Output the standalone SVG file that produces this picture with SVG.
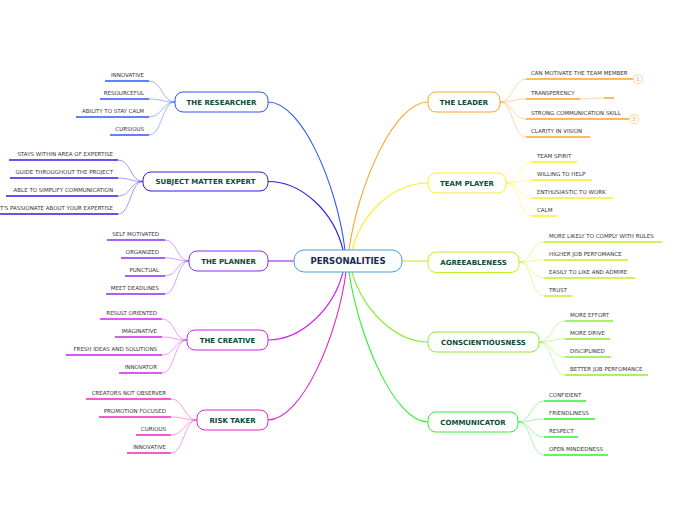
<svg xmlns="http://www.w3.org/2000/svg" width="696" height="520" viewBox="0 0 696 520">
<style>
.lt{font-family:"DejaVu Sans",Verdana,sans-serif;font-size:5.5px;fill:#333}
.le{text-anchor:end}
.u{stroke-width:1.5;fill:none}
.lc{fill:none;stroke-width:0.8;stroke-opacity:0.55}
.mc{fill:none;stroke-width:1.1}
.nr{fill:#fff;stroke-width:1}
.nt{font-family:"DejaVu Sans",Verdana,sans-serif;font-weight:bold;font-size:7px;fill:#0c4a38;text-anchor:middle}
.b1{stroke:#2b56ff}.b2{stroke:#3418e6}.b3{stroke:#8a2cf0}.b4{stroke:#cf22ee}.b5{stroke:#f020c4}
.b6{stroke:#ffa326}.b7{stroke:#ffee22}.b8{stroke:#bdf222}.b9{stroke:#88ee33}.b10{stroke:#33ee33}
.ic{fill:#fff;stroke:#ffcc88;stroke-width:0.8}
.it{font-family:"DejaVu Sans",sans-serif;font-size:5.5px;fill:#ff9a1a;text-anchor:middle}
</style>
<rect width="696" height="520" fill="#fff"/>
<g id="connectors">
<path class="mc b1" d="M268,102 C302,102 337,185 345,250"/>
<path class="mc b2" d="M268,181.5 C302,181.5 334,212 343,250"/>
<path class="mc b3" d="M268,261 L294,261"/>
<path class="mc b4" d="M268,340 C302,340 334,308 343,272"/>
<path class="mc b5" d="M268,420 C302,420 338,335 346,272"/>
<path class="mc b6" d="M428,102 C394,102 358,185 349,250"/>
<path class="mc b7" d="M428,183 C394,183 362,212 352,250"/>
<path class="mc b8" d="M402,261 L428,261"/>
<path class="mc b9" d="M428,342 C394,342 362,308 352,272"/>
<path class="mc b10" d="M428,422 C394,422 358,335 349,272"/>
<!-- researcher -->
<path class="lc b1" d="M175,102 C162,102 162,81 149,81"/>
<path class="lc b1" d="M175,102 C162,102 162,99 149,99"/>
<path class="lc b1" d="M175,102 C162,102 162,117 149,117"/>
<path class="lc b1" d="M175,102 C162,102 162,135 149,135"/>
<!-- sme -->
<path class="lc b2" d="M143,181.5 C130,181.5 131,160 118,160"/>
<path class="lc b2" d="M143,181.5 C130,181.5 131,178 118,178"/>
<path class="lc b2" d="M143,181.5 C130,181.5 131,196 118,196"/>
<path class="lc b2" d="M143,181.5 C130,181.5 131,214 118,214"/>
<!-- planner -->
<path class="lc b3" d="M189,261 C177,261 177,240 165,240"/>
<path class="lc b3" d="M189,261 C177,261 177,258 165,258"/>
<path class="lc b3" d="M189,261 C177,261 177,276 165,276"/>
<path class="lc b3" d="M189,261 C177,261 177,294 165,294"/>
<!-- creative -->
<path class="lc b4" d="M187,340 C174,340 175,319 162,319"/>
<path class="lc b4" d="M187,340 C174,340 175,337 162,337"/>
<path class="lc b4" d="M187,340 C174,340 175,355 162,355"/>
<path class="lc b4" d="M187,340 C174,340 175,373 162,373"/>
<!-- risk -->
<path class="lc b5" d="M197,420 C184,420 184,399 171,399"/>
<path class="lc b5" d="M197,420 C184,420 184,417 171,417"/>
<path class="lc b5" d="M197,420 C184,420 184,435 171,435"/>
<path class="lc b5" d="M197,420 C184,420 184,453 171,453"/>
<!-- leader -->
<path class="lc b6" d="M500,102 C513,102 513,79 526,79"/>
<path class="lc b6" d="M500,102 C513,102 513,99 526,99"/>
<path class="lc b6" d="M500,102 C513,102 513,119 526,119"/>
<path class="lc b6" d="M500,102 C513,102 513,137 526,137"/>
<path class="lc b6" d="M580,99 C592,99 592,98 604,98"/>
<!-- team -->
<path class="lc b7" d="M506,183 C519,183 519,162 532,162"/>
<path class="lc b7" d="M506,183 C519,183 519,180 532,180"/>
<path class="lc b7" d="M506,183 C519,183 519,198 532,198"/>
<path class="lc b7" d="M506,183 C519,183 519,216 532,216"/>
<!-- agree -->
<path class="lc b8" d="M519,262 C532,262 531,242 544,242"/>
<path class="lc b8" d="M519,262 C532,262 531,260 544,260"/>
<path class="lc b8" d="M519,262 C532,262 531,278 544,278"/>
<path class="lc b8" d="M519,262 C532,262 531,296 544,296"/>
<!-- consc -->
<path class="lc b9" d="M539,342 C552,342 552,321 565,321"/>
<path class="lc b9" d="M539,342 C552,342 552,339 565,339"/>
<path class="lc b9" d="M539,342 C552,342 552,357 565,357"/>
<path class="lc b9" d="M539,342 C552,342 552,375 565,375"/>
<!-- comm -->
<path class="lc b10" d="M518,422 C531,422 531,401 544,401"/>
<path class="lc b10" d="M518,422 C531,422 531,419 544,419"/>
<path class="lc b10" d="M518,422 C531,422 531,437 544,437"/>
<path class="lc b10" d="M518,422 C531,422 531,455 544,455"/>
</g>

<g id="personalities">
<rect x="294" y="250" width="108" height="22" rx="10" fill="#fbfdff" stroke="#4a9fd6" stroke-width="1"/>
<text x="348" y="264.2" font-family="DejaVu Sans,Verdana,sans-serif" font-weight="bold" font-size="8.5" fill="#1b2a50" text-anchor="middle">PERSONALITIES</text>
</g>

<g id="the-researcher"><rect class="nr b1" x="175" y="92" width="93" height="20" rx="8"/><text class="nt" x="221.5" y="104.7">THE RESEARCHER</text></g>
<g id="subject-matter-expert"><rect class="nr b2" x="143" y="172" width="125" height="19" rx="8"/><text class="nt" x="205.5" y="184.2">SUBJECT MATTER EXPERT</text></g>
<g id="the-planner"><rect class="nr b3" x="189" y="251" width="79" height="20" rx="8"/><text class="nt" x="228.5" y="263.7">THE PLANNER</text></g>
<g id="the-creative"><rect class="nr b4" x="187" y="330" width="81" height="20" rx="8"/><text class="nt" x="227.5" y="342.7">THE CREATIVE</text></g>
<g id="risk-taker"><rect class="nr b5" x="197" y="410" width="71" height="20" rx="8"/><text class="nt" x="232.5" y="422.7">RISK TAKER</text></g>
<g id="the-leader"><rect class="nr b6" x="428" y="92" width="72" height="20" rx="8"/><text class="nt" x="464" y="104.7">THE LEADER</text></g>
<g id="team-player"><rect class="nr b7" x="428" y="173" width="78" height="20" rx="8"/><text class="nt" x="467" y="185.7">TEAM PLAYER</text></g>
<g id="agreeableness"><rect class="nr b8" x="428" y="252" width="91" height="20.5" rx="8"/><text class="nt" x="473.5" y="264.9">AGREEABLENESS</text></g>
<g id="conscientiousness"><rect class="nr b9" x="428" y="332" width="111" height="20" rx="8"/><text class="nt" x="483.5" y="344.7">CONSCIENTIOUSNESS</text></g>
<g id="communicator"><rect class="nr b10" x="428" y="412" width="90" height="20" rx="8"/><text class="nt" x="473" y="424.7">COMMUNICATOR</text></g>

<!-- researcher leaves -->
<g id="res-1"><line class="u b1" x1="105" y1="81" x2="149" y2="81"/><text class="lt le" x="144" y="76.7">INNOVATIVE</text></g>
<g id="res-2"><line class="u b1" x1="100" y1="99" x2="149" y2="99"/><text class="lt le" x="144" y="94.7">RESOURCEFUL</text></g>
<g id="res-3"><line class="u b1" x1="76" y1="117" x2="149" y2="117"/><text class="lt le" x="144" y="112.7">ABILITY TO STAY CALM</text></g>
<g id="res-4"><line class="u b1" x1="110" y1="135" x2="149" y2="135"/><text class="lt le" x="144" y="130.7">CURSIOUS</text></g>
<!-- sme leaves -->
<g id="sme-1"><line class="u b2" x1="9" y1="160" x2="118" y2="160"/><text class="lt le" x="113" y="155.7">STAYS WITHIN AREA OF EXPERTISE</text></g>
<g id="sme-2"><line class="u b2" x1="10" y1="178" x2="118" y2="178"/><text class="lt le" x="113" y="173.7">GUIDE THROUGHOUT THE PROJECT</text></g>
<g id="sme-3"><line class="u b2" x1="6" y1="196" x2="118" y2="196"/><text class="lt le" x="113" y="191.7">ABLE TO SIMPLIFY COMMUNICATION</text></g>
<g id="sme-4"><line class="u b2" x1="-10" y1="214" x2="118" y2="214"/><text class="lt le" x="113" y="209.7">IT'S PASSIONATE ABOUT YOUR EXPERTISE</text></g>
<!-- planner leaves -->
<g id="pla-1"><line class="u b3" x1="107" y1="240" x2="165" y2="240"/><text class="lt le" x="159" y="235.7">SELF MOTIVATED</text></g>
<g id="pla-2"><line class="u b3" x1="121" y1="258" x2="165" y2="258"/><text class="lt le" x="159" y="253.7">ORGANIZED</text></g>
<g id="pla-3"><line class="u b3" x1="125" y1="276" x2="165" y2="276"/><text class="lt le" x="159" y="271.7">PUNCTUAL</text></g>
<g id="pla-4"><line class="u b3" x1="106" y1="294" x2="165" y2="294"/><text class="lt le" x="159" y="289.7">MEET DEADLINES</text></g>
<!-- creative leaves -->
<g id="cre-1"><line class="u b4" x1="100" y1="319" x2="162" y2="319"/><text class="lt le" x="157" y="314.7">RESULT ORIENTED</text></g>
<g id="cre-2"><line class="u b4" x1="115" y1="337" x2="162" y2="337"/><text class="lt le" x="157" y="332.7">IMAGINATIVE</text></g>
<g id="cre-3"><line class="u b4" x1="66" y1="355" x2="162" y2="355"/><text class="lt le" x="157" y="350.7">FRESH IDEAS AND SOLUTIONS</text></g>
<g id="cre-4"><line class="u b4" x1="119" y1="373" x2="162" y2="373"/><text class="lt le" x="157" y="368.7">INNOVATOR</text></g>
<!-- risk leaves -->
<g id="ris-1"><line class="u b5" x1="86" y1="399" x2="171" y2="399"/><text class="lt le" x="166" y="394.7">CREATORS NOT OBSERVER</text></g>
<g id="ris-2"><line class="u b5" x1="99" y1="417" x2="171" y2="417"/><text class="lt le" x="166" y="412.7">PROMOTION FOCUSED</text></g>
<g id="ris-3"><line class="u b5" x1="136" y1="435" x2="171" y2="435"/><text class="lt le" x="166" y="430.7">CURIOUS</text></g>
<g id="ris-4"><line class="u b5" x1="127" y1="453" x2="171" y2="453"/><text class="lt le" x="166" y="448.7">INNOVATIVE</text></g>
<!-- leader leaves -->
<g id="lea-1"><line class="u b6" x1="526" y1="79" x2="633" y2="79"/><text class="lt" x="531" y="74.7">CAN MOTIVATE THE TEAM MEMBER</text>
<rect class="ic" x="633.5" y="75" width="9" height="8.5" rx="3.5"/><text class="it" x="638" y="81.3">1</text></g>
<g id="lea-2"><line class="u b6" x1="526" y1="99" x2="580" y2="99"/><line class="u b6" x1="604" y1="98" x2="614" y2="98"/><text class="lt" x="531" y="94.7">TRANSPERENCY</text></g>
<g id="lea-3"><line class="u b6" x1="526" y1="119" x2="629" y2="119"/><text class="lt" x="531" y="114.7">STRONG COMMUNICATION SKILL</text>
<rect class="ic" x="629.5" y="115" width="9" height="8.5" rx="3.5"/><text class="it" x="634" y="121.3">3</text></g>
<g id="lea-4"><line class="u b6" x1="526" y1="137" x2="590" y2="137"/><text class="lt" x="531" y="132.7">CLARITY IN VISION</text></g>
<!-- team leaves -->
<g id="tea-1"><line class="u b7" x1="532" y1="162" x2="577" y2="162"/><text class="lt" x="537" y="157.7">TEAM SPIRIT</text></g>
<g id="tea-2"><line class="u b7" x1="532" y1="180" x2="592" y2="180"/><text class="lt" x="537" y="175.7">WILLING TO HELP</text></g>
<g id="tea-3"><line class="u b7" x1="532" y1="198" x2="613" y2="198"/><text class="lt" x="537" y="193.7">ENTHUSIASTIC TO WORK</text></g>
<g id="tea-4"><line class="u b7" x1="532" y1="216" x2="557" y2="216"/><text class="lt" x="537" y="211.7">CALM</text></g>
<!-- agree leaves -->
<g id="agr-1"><line class="u b8" x1="544" y1="242" x2="662" y2="242"/><text class="lt" x="549" y="237.7">MORE LIKELY TO COMPLY WITH RULES</text></g>
<g id="agr-2"><line class="u b8" x1="544" y1="260" x2="628" y2="260"/><text class="lt" x="549" y="255.7">HIGHER JOB PERFOMANCE</text></g>
<g id="agr-3"><line class="u b8" x1="544" y1="278" x2="635" y2="278"/><text class="lt" x="549" y="273.7">EASILY TO LIKE AND ADMIRE</text></g>
<g id="agr-4"><line class="u b8" x1="544" y1="296" x2="572" y2="296"/><text class="lt" x="549" y="291.7">TRUST</text></g>
<!-- consc leaves -->
<g id="con-1"><line class="u b9" x1="565" y1="321" x2="613" y2="321"/><text class="lt" x="570" y="316.7">MORE EFFORT</text></g>
<g id="con-2"><line class="u b9" x1="565" y1="339" x2="610" y2="339"/><text class="lt" x="570" y="334.7">MORE DRIVE</text></g>
<g id="con-3"><line class="u b9" x1="565" y1="357" x2="611" y2="357"/><text class="lt" x="570" y="352.7">DISCIPLINED</text></g>
<g id="con-4"><line class="u b9" x1="565" y1="375" x2="648" y2="375"/><text class="lt" x="570" y="370.7">BETTER JOB PERFOMANCE</text></g>
<!-- comm leaves -->
<g id="com-1"><line class="u b10" x1="544" y1="401" x2="586" y2="401"/><text class="lt" x="549" y="396.7">CONFIDENT</text></g>
<g id="com-2"><line class="u b10" x1="544" y1="419" x2="595" y2="419"/><text class="lt" x="549" y="414.7">FRIENDLINESS</text></g>
<g id="com-3"><line class="u b10" x1="544" y1="437" x2="578" y2="437"/><text class="lt" x="549" y="432.7">RESPECT</text></g>
<g id="com-4"><line class="u b10" x1="544" y1="455" x2="608" y2="455"/><text class="lt" x="549" y="450.7">OPEN MINDEDNESS</text></g>
</svg>
